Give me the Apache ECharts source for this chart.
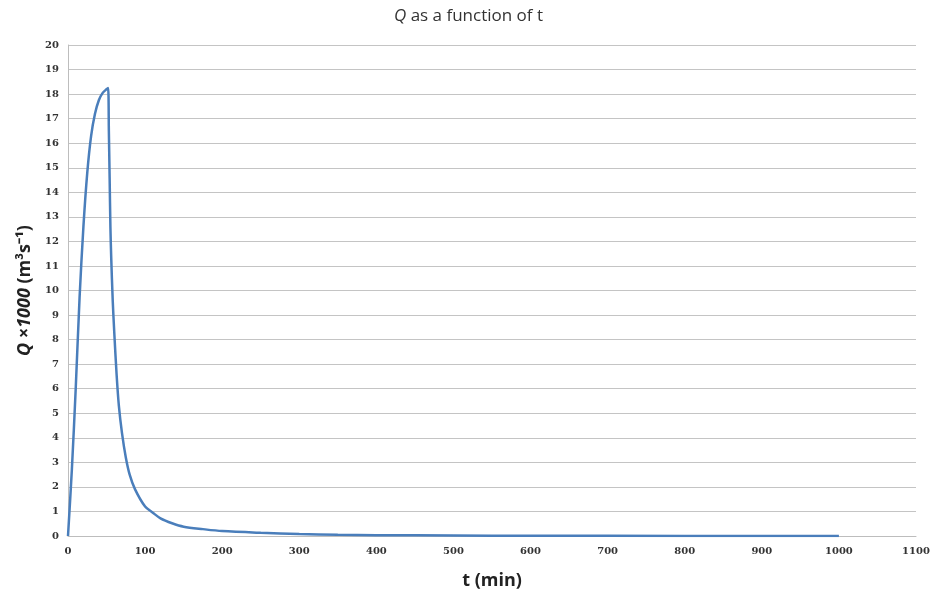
<!DOCTYPE html>
<html>
<head>
<meta charset="utf-8">
<script src="https://cdn.jsdelivr.net/npm/echarts@6/dist/echarts.min.js"></script>
<style>html,body{margin:0;padding:0;background:#fff}#c{width:937px;height:598px}</style>
</head>
<body>
<div id="c"></div>
<script>
// time (min)
var tValues = [0, 5, 10, 15, 20, 25, 30, 35, 40, 45, 50, 52, 53, 54, 55, 56, 58, 60, 63, 66, 70, 75, 80, 87, 100, 110, 120, 135, 150, 175, 200, 250, 300, 350, 400, 500, 600, 800, 1000];
// Q x 1000 (m3/s)
var qValues = [0, 2.7, 6.0, 9.7, 12.6, 14.8, 16.3, 17.2, 17.75, 18.05, 18.2, 18.25, 16.5, 14.6, 12.6, 11.4, 9.6, 8.3, 6.6, 5.3, 4.2, 3.2, 2.5, 1.9, 1.2, 0.95, 0.72, 0.52, 0.38, 0.28, 0.2, 0.13, 0.08, 0.05, 0.035, 0.02, 0.012, 0.005, 0.002];
var xTicks = {min: 0, max: 1100, interval: 100};
var yTicks = {min: 0, max: 20, interval: 1};

var data = tValues.map(function (t, i) { return [t, qValues[i]]; });

var chart = echarts.init(document.getElementById('c'));
chart.setOption({
  animation: false,
  title: {
    text: '{i|Q} as a function of t',
    left: 'center',
    top: 3,
    textStyle: {
      fontFamily: 'Open Sans',
      fontSize: 17,
      fontWeight: 'normal',
      color: '#333',
      rich: { i: { fontFamily: 'Open Sans', fontSize: 17, fontStyle: 'italic', color: '#333' } }
    }
  },
  grid: { left: 68, right: 21, top: 45, bottom: 62, containLabel: false },
  xAxis: {
    type: 'value',
    min: xTicks.min, max: xTicks.max, interval: xTicks.interval,
    name: 't (min)',
    nameLocation: 'middle',
    nameGap: 36,
    nameTextStyle: { fontFamily: 'Open Sans', fontSize: 18, fontWeight: 'bold', color: '#222' },
    axisLine: { show: true, lineStyle: { color: '#bdbdbd', width: 1 } },
    axisTick: { show: false },
    splitLine: { show: false },
    axisLabel: { fontFamily: 'DejaVu Serif', fontSize: 10, fontWeight: 'bold', color: '#333', margin: 10,
      formatter: function (v) { return String(v); } }
  },
  yAxis: {
    type: 'value',
    min: yTicks.min, max: yTicks.max, interval: yTicks.interval,
    name: '{i|Q ×1000} (m³s⁻¹)',
    nameLocation: 'middle',
    nameGap: 31,
    nameTextStyle: {
      fontFamily: 'Open Sans', fontSize: 18, fontWeight: 'bold', color: '#222',
      rich: { i: { fontFamily: 'Open Sans', fontSize: 18, fontWeight: 'bold', fontStyle: 'italic', color: '#222' } }
    },
    axisLine: { show: true, lineStyle: { color: '#bdbdbd', width: 1 } },
    axisTick: { show: false },
    splitLine: { show: true, lineStyle: { color: '#c4c4c4', width: 1.2 } },
    axisLabel: { fontFamily: 'DejaVu Serif', fontSize: 10, fontWeight: 'bold', color: '#333', margin: 9 }
  },
  series: [{
    type: 'line',
    data: data,
    smooth: 0.3,
    showSymbol: false,
    lineStyle: { color: '#4a7ebb', width: 2.5 },
    itemStyle: { color: '#4a7ebb' }
  }]
});
</script>
</body>
</html>
